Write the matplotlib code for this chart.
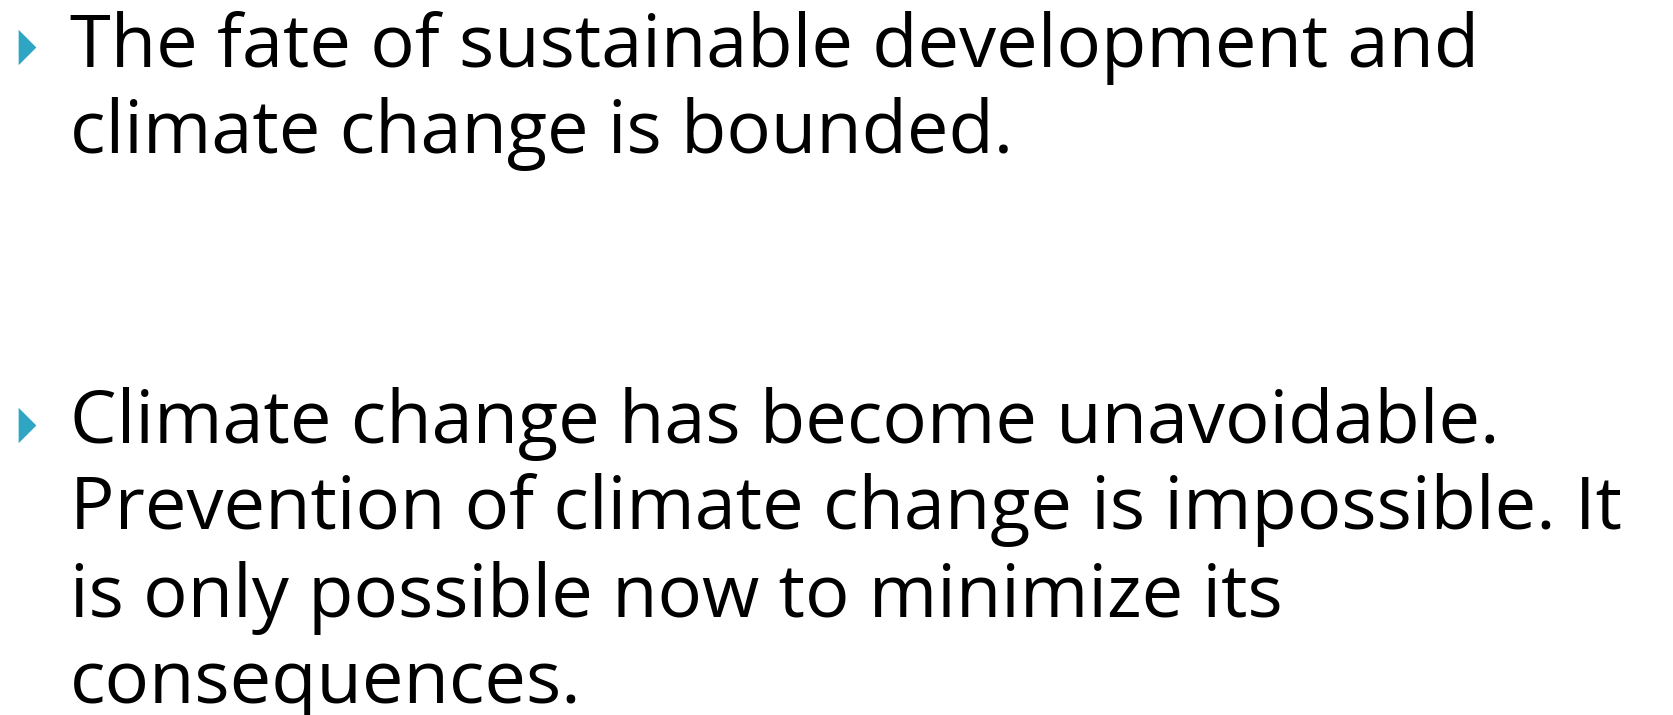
import matplotlib.pyplot as plt

# slide content
bullet1_lines = ["The fate of sustainable development and",
                 "climate change is bounded."]
bullet2_lines = ["Climate change has become unavoidable.",
                 "Prevention of climate change is impossible. It",
                 "is only possible now to minimize its",
                 "consequences."]
bullet1_base = [67, 153]
bullet2_base = [443, 529, 617, 703]

W, H = 1673, 715
fig = plt.figure(figsize=(W / 100, H / 100), dpi=100)
ax = fig.add_axes([0, 0, 1, 1])
ax.set_xlim(0, W)
ax.set_ylim(H, 0)
ax.axis('off')

tri = [(-0.5, -1), (0.5, 0), (-0.5, 1)]
ax.scatter([27, 27], [47, 425], marker=tri, s=650, color='#2fa5c4', linewidths=0)

for lines, bases in [(bullet1_lines, bullet1_base), (bullet2_lines, bullet2_base)]:
    for txt, y in zip(lines, bases):
        ax.text(70, y, txt, fontsize=53.3, family='Open Sans', va='baseline', ha='left', color='black')

fig.savefig('out.png', dpi=100)
